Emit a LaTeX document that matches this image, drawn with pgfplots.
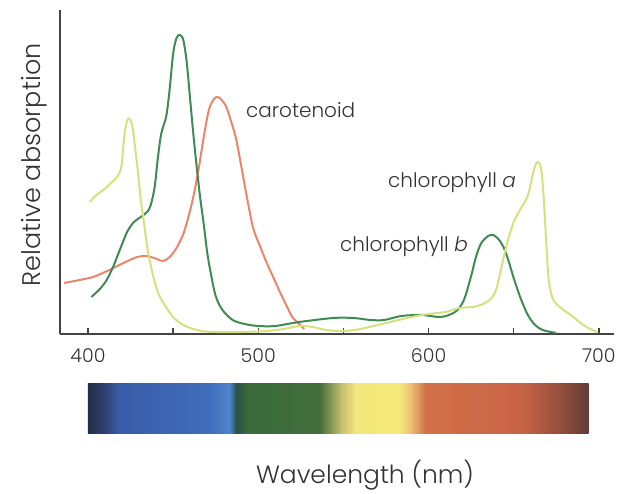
\documentclass[border=0pt]{standalone}
\usepackage{fontspec}
\setmainfont{Poppins}[UprightFont=* Light, ItalicFont=* Light Italic]
\usepackage{pgfplots}
\pgfplotsset{compat=1.18}
\definecolor{chla}{HTML}{D6E07C}
\definecolor{chlb}{HTML}{3F8A55}
\definecolor{carot}{HTML}{E9866C}
\definecolor{txt}{HTML}{333333}
\definecolor{axc}{HTML}{444444}
\begin{document}
\begin{tikzpicture}
\begin{axis}[
  name=ax,
  scale only axis,
  width=554pt, height=324pt,
  xmin=383.6, xmax=708.9, ymin=0, ymax=324,
  axis lines=left,
  axis line style={-, axc, line width=1.5pt},
  xtick={400,450,500,550,600,650,700},
  xticklabels={400,,500,,600,,700},
  ytick=\empty,
  tick align=inside,
  major tick length=6pt,
  tick style={axc, line width=1.3pt},
  /pgf/number format/assume math mode=true,
  xticklabel style={font=\fontsize{19}{21}\selectfont, text=txt, yshift=-11pt},
  clip=false,
]
% spectrum bar
\def\sb{-49}\def\st{-99}
\addplot[draw=none, forget plot, left color={rgb,255:red,38;green,44;blue,69}, right color={rgb,255:red,48;green,66;blue,115}] coordinates {(400,\sb) (410.3,\sb) (410.3,\st) (400,\st)} -- cycle;
\addplot[draw=none, forget plot, left color={rgb,255:red,48;green,66;blue,115}, right color={rgb,255:red,58;green,92;blue,168}] coordinates {(410,\sb) (418.3,\sb) (418.3,\st) (410,\st)} -- cycle;
\addplot[draw=none, forget plot, left color={rgb,255:red,58;green,92;blue,168}, right color={rgb,255:red,64;green,108;blue,186}] coordinates {(418,\sb) (470.3,\sb) (470.3,\st) (418,\st)} -- cycle;
\addplot[draw=none, forget plot, left color={rgb,255:red,64;green,108;blue,186}, right color={rgb,255:red,76;green,132;blue,206}] coordinates {(470,\sb) (483.3,\sb) (483.3,\st) (470,\st)} -- cycle;
\addplot[draw=none, forget plot, left color={rgb,255:red,76;green,132;blue,206}, right color={rgb,255:red,42;green,80;blue,72}] coordinates {(483,\sb) (487.3,\sb) (487.3,\st) (483,\st)} -- cycle;
\addplot[draw=none, forget plot, left color={rgb,255:red,42;green,80;blue,72}, right color={rgb,255:red,58;green,106;blue,60}] coordinates {(487,\sb) (493.3,\sb) (493.3,\st) (487,\st)} -- cycle;
\addplot[draw=none, forget plot, left color={rgb,255:red,58;green,106;blue,60}, right color={rgb,255:red,66;green,110;blue,58}] coordinates {(493,\sb) (536.3,\sb) (536.3,\st) (493,\st)} -- cycle;
\addplot[draw=none, forget plot, left color={rgb,255:red,66;green,110;blue,58}, right color={rgb,255:red,200;green,192;blue,112}] coordinates {(536,\sb) (549.3,\sb) (549.3,\st) (536,\st)} -- cycle;
\addplot[draw=none, forget plot, left color={rgb,255:red,200;green,192;blue,112}, right color={rgb,255:red,242;green,230;blue,124}] coordinates {(549,\sb) (557.3,\sb) (557.3,\st) (549,\st)} -- cycle;
\addplot[draw=none, forget plot, left color={rgb,255:red,242;green,230;blue,124}, right color={rgb,255:red,246;green,234;blue,122}] coordinates {(557,\sb) (582.3,\sb) (582.3,\st) (557,\st)} -- cycle;
\addplot[draw=none, forget plot, left color={rgb,255:red,246;green,234;blue,122}, right color={rgb,255:red,236;green,196;blue,116}] coordinates {(582,\sb) (589.3,\sb) (589.3,\st) (582,\st)} -- cycle;
\addplot[draw=none, forget plot, left color={rgb,255:red,236;green,196;blue,116}, right color={rgb,255:red,210;green,112;blue,72}] coordinates {(589,\sb) (598.3,\sb) (598.3,\st) (589,\st)} -- cycle;
\addplot[draw=none, forget plot, left color={rgb,255:red,210;green,112;blue,72}, right color={rgb,255:red,200;green,100;blue,70}] coordinates {(598,\sb) (655.3,\sb) (655.3,\st) (598,\st)} -- cycle;
\addplot[draw=none, forget plot, left color={rgb,255:red,200;green,100;blue,70}, right color={rgb,255:red,140;green,76;blue,60}] coordinates {(655,\sb) (680.3,\sb) (680.3,\st) (655,\st)} -- cycle;
\addplot[draw=none, forget plot, left color={rgb,255:red,140;green,76;blue,60}, right color={rgb,255:red,96;green,60;blue,54}] coordinates {(680,\sb) (694,\sb) (694,\st) (680,\st)} -- cycle;
% carotenoid
\addplot[carot, line width=2pt, smooth] coordinates {
(386,51) (395,54) (403,57) (410,62) (415,66) (422,72) (429,77) (434,78) (439,76) (444,73)
(448,77) (452,86) (456,100) (459,117) (462,138) (465,165) (468,197) (471,224) (474,235)
(476,237) (478,235) (481,228) (484,213) (487,195) (490,168) (493,140) (497,106) (501,88)
(505,71) (509,56) (513,41) (517,27) (520,17) (524,10) (527,5)};
% chlorophyll b
\addplot[chlb, line width=2pt, smooth] coordinates {
(402,37) (407,45) (411,54) (415,68) (418,81) (423,102) (427,112) (431,117) (436,125)
(439,145) (441,175) (443,200) (446,218) (448,245) (450,280) (452,296) (454,299) (456,294)
(458,272) (460,235) (462,198) (464,165) (466,135) (468,110) (470,82) (472,62) (475,38)
(479,24) (485,14) (492,10) (500,8) (510,8) (524,12) (544,16) (556,16) (566,14) (574,14)
(584,18) (596,19) (606,17) (612,19) (617,24) (621,35) (625,58) (628,78) (631,91) (635,98)
(638,99) (641,95) (644,87) (647,73) (650,56) (654,36) (658,20) (662,10) (667,4) (675,1)};
% chlorophyll a
\addplot[chla, line width=2pt, smooth] coordinates {
(401,132) (405,139) (409,144) (413,150) (417,157) (419,163) (420,172) (421,192) (422,206)
(423.5,215) (425,214) (426.5,204) (428,182) (429.5,160) (431,135) (433,110) (435,85)
(438,60) (441,42) (445,29) (450,17) (455,10) (460,6) (467,3) (475,2) (490,2) (505,3)
(515,5) (524,8) (532,7) (540,4) (550,3) (560,5) (570,9) (580,13) (590,17) (600,20)
(610,22) (618,26) (626,27) (632,30) (637,36) (640,46) (643,68) (646,90) (650,112)
(654,125) (658,137) (660,150) (662,165) (664,172) (666,166) (667.5,140) (669,95)
(670.5,55) (673,35) (677,27) (681,22) (685,17) (690,10) (695,5) (699,2)};
% labels
\node[anchor=west, text=txt, font=\fontsize{20}{23}\selectfont, inner sep=0pt] at (axis cs:492.8,224) {carotenoid};
\node[anchor=west, text=txt, font=\fontsize{20}{23}\selectfont, inner sep=0pt] at (axis cs:576.2,151) {chlorophyll \textit{a}};
\node[anchor=west, text=txt, font=\fontsize{20}{23}\selectfont, inner sep=0pt] at (axis cs:548.0,87) {chlorophyll \textit{b}};
\node[text=txt, font=\fontsize{25}{28}\selectfont, inner sep=0pt] at (axis cs:562.7,-141) {Wavelength (nm)};
\node[text=txt, font=\fontsize{25.5}{28}\selectfont, inner sep=0pt, rotate=90] at (axis cs:368.3,169) {Relative absorption};
\end{axis}
\path (ax.south west) ++(-60pt,-159pt) rectangle ++(624pt,493pt);
\end{tikzpicture}
\end{document}
